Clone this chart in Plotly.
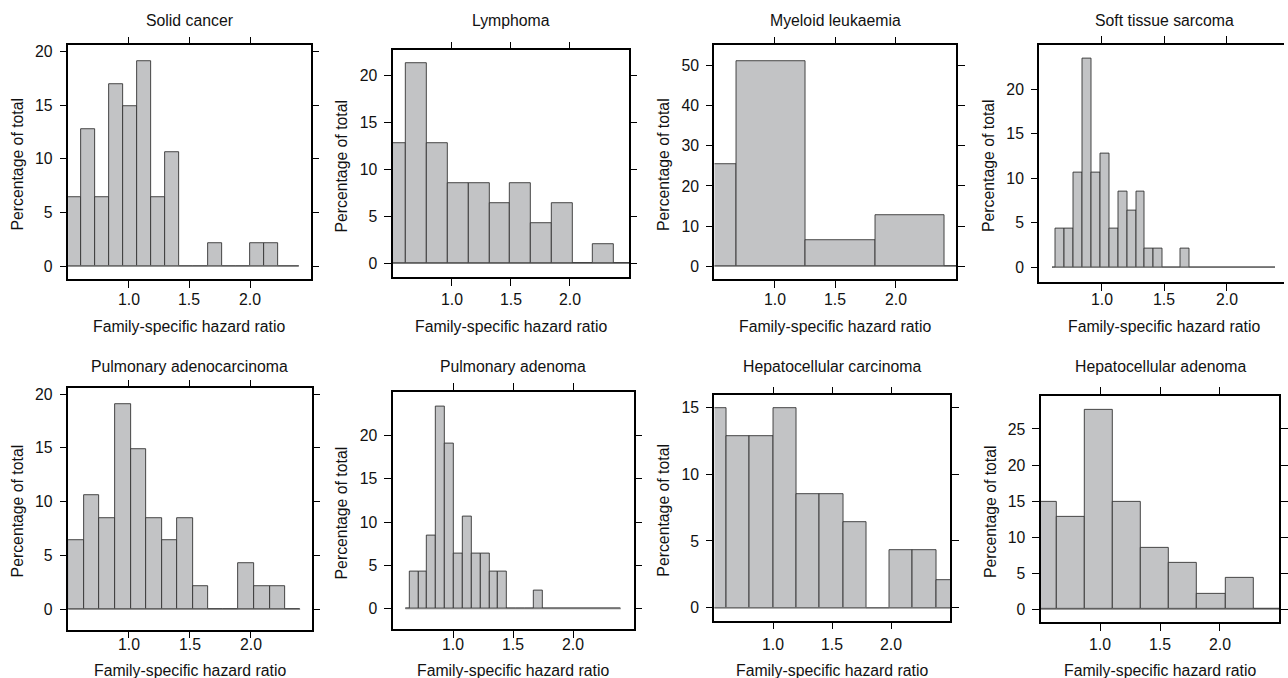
import plotly.graph_objects as go

W, H = 1288, 678

# ---------------- data ----------------
titles = ["Solid cancer", "Lymphoma", "Myeloid leukaemia", "Soft tissue sarcoma",
          "Pulmonary adenocarcinoma", "Pulmonary adenoma",
          "Hepatocellular carcinoma", "Hepatocellular adenoma"]

x_label = "Family-specific hazard ratio"
y_label = "Percentage of total"
x_ticks = [1.0, 1.5, 2.0]

solid_edges = [0.492, 0.608, 0.723, 0.839, 0.955, 1.071, 1.187, 1.302, 1.418, 1.534,
               1.650, 1.766, 1.881, 1.997, 2.113, 2.229, 2.401]
solid_pct = [6.4, 12.8, 6.4, 17.0, 14.9, 19.1, 6.4, 10.6, 0, 0, 2.1, 0, 0, 2.1, 2.1, 0]

lymph_edges = [0.436, 0.612, 0.789, 0.965, 1.141, 1.317, 1.492, 1.668, 1.844, 2.020,
               2.196, 2.371, 2.547]
lymph_pct = [12.8, 21.3, 12.8, 8.5, 8.5, 6.4, 8.5, 4.3, 6.4, 0, 2.1, 0]

myeloid_edges = [0.106, 0.680, 1.256, 1.830, 2.404, 2.980]
myeloid_pct = [25.5, 51.1, 6.4, 12.8, 0]

sarcoma_edges = [0.604, 0.630, 0.701, 0.773, 0.844, 0.916, 0.987, 1.058, 1.130, 1.201,
                 1.273, 1.344, 1.416, 1.487, 1.558, 1.630, 1.701, 2.386]
sarcoma_pct = [0, 4.3, 4.3, 10.6, 23.4, 10.6, 12.8, 4.3, 8.5, 6.4, 8.5, 2.1, 2.1, 0, 0, 2.1, 0]

pulm_adcarc_edges = [0.502, 0.630, 0.758, 0.886, 1.014, 1.141, 1.269, 1.397, 1.525, 1.653,
                     1.776, 1.899, 2.027, 2.156, 2.282, 2.405]
pulm_adcarc_pct = [6.4, 10.6, 8.5, 19.1, 14.9, 8.5, 6.4, 8.5, 2.1, 0, 0, 4.3, 2.1, 2.1, 0]

pulm_aden_edges = [0.605, 0.638, 0.712, 0.786, 0.859, 0.933, 1.007, 1.081, 1.154, 1.228,
                   1.302, 1.375, 1.449, 1.522, 1.596, 1.668, 1.743, 2.392]
pulm_aden_pct = [0, 4.3, 4.3, 8.5, 23.4, 19.1, 6.4, 10.6, 6.4, 6.4, 4.3, 4.3, 0, 0, 0, 2.1, 0]

hep_carc_edges = [0.403, 0.601, 0.799, 0.997, 1.195, 1.393, 1.591, 1.789, 1.985, 2.182,
                  2.381, 2.579]
hep_carc_pct = [14.9, 12.8, 12.8, 14.9, 8.5, 8.5, 6.4, 0, 4.3, 4.3, 2.1]

hep_aden_edges = [0.395, 0.631, 0.867, 1.103, 1.340, 1.576, 1.812, 2.049, 2.285, 2.521]
hep_aden_pct = [14.9, 12.8, 27.7, 14.9, 8.5, 6.4, 2.1, 4.3, 0]

y_ticks = [[0, 5, 10, 15, 20], [0, 5, 10, 15, 20], [0, 10, 20, 30, 40, 50],
           [0, 5, 10, 15, 20], [0, 5, 10, 15, 20], [0, 5, 10, 15, 20],
           [0, 5, 10, 15], [0, 5, 10, 15, 20, 25]]

panels_edges = [solid_edges, lymph_edges, myeloid_edges, sarcoma_edges,
                pulm_adcarc_edges, pulm_aden_edges, hep_carc_edges, hep_aden_edges]
panels_pct = [solid_pct, lymph_pct, myeloid_pct, sarcoma_pct,
              pulm_adcarc_pct, pulm_aden_pct, hep_carc_pct, hep_aden_pct]

# ---------------- layout (pixel boxes of each panel) ----------------
boxes = [  # x0, x1, ytop, ybottom
    (68.3, 311.7, 43.3, 278.3),
    (394.0, 631.0, 48.3, 276.0),
    (716.7, 959.3, 43.3, 278.3),
    (1042.7, 1293.3, 42.7, 281.0),
    (68.3, 312.7, 387.3, 630.0),
    (394.0, 635.7, 390.7, 629.3),
    (716.7, 953.3, 394.3, 620.7),
    (1044.0, 1283.3, 395.0, 622.3),
]
y_ranges = [(-1.24, 20.6), (-1.45, 22.7), (-3.3, 55.1), (-1.68, 25.0),
            (-1.95, 20.56), (-2.4, 25.1), (-0.97, 15.9), (-1.84, 29.6)]
x_range = (0.5, 2.5)
title_baseline = [24.5, 370.8]
xtitle_baseline = [330.7, 675.5]
xtick_baseline = [304.0, 650.0]

FONT = "Liberation Sans, Arial, Helvetica, sans-serif"
FS = 15.8
TXT = "#111111"
BAR_FILL = "#c2c3c5"
BAR_LINE = "#333333"
MID = 0.3465 * FS  # baseline -> middle of text box

fig = go.Figure()
layout = dict(width=W, height=H, margin=dict(l=0, r=0, t=0, b=0),
              paper_bgcolor="white", plot_bgcolor="white", showlegend=False,
              font=dict(family=FONT, size=FS, color=TXT), bargap=0)
annotations = []
tfont = dict(family=FONT, size=FS, color=TXT)

for i in range(8):
    k = i + 1
    xa = "x" if k == 1 else f"x{k}"
    ya = "y" if k == 1 else f"y{k}"
    edges = panels_edges[i]
    pct = panels_pct[i]
    centers = [(edges[j] + edges[j + 1]) / 2 for j in range(len(pct))]
    widths = [edges[j + 1] - edges[j] for j in range(len(pct))]

    # baseline (zero-height bins)
    fig.add_trace(go.Scatter(x=[edges[0], edges[-1]], y=[0, 0], mode="lines",
                             line=dict(color="#7a7a7a", width=1.1),
                             xaxis=xa, yaxis=ya, hoverinfo="skip"))
    fig.add_trace(go.Bar(x=centers, y=pct, width=widths,
                         marker=dict(color=BAR_FILL, line=dict(color=BAR_LINE, width=0.9)),
                         xaxis=xa, yaxis=ya))

    x0, x1, yt, yb = boxes[i]
    xr = list(x_range)
    dx1 = x1
    if x1 > W:  # panel cut by the right edge of the figure
        xr[1] = x_range[0] + (x_range[1] - x_range[0]) * (W - x0) / (x1 - x0)
        dx1 = W
    row = 0 if i < 4 else 1
    common = dict(showline=True, linecolor="black", linewidth=1.7, ticks="outside",
                  ticklen=6.5, tickwidth=1.3, tickcolor="black", showgrid=False,
                  zeroline=False, fixedrange=True, tickfont=tfont)
    layout["xaxis" if k == 1 else f"xaxis{k}"] = dict(
        common, domain=[x0 / W, dx1 / W], range=xr, tickvals=x_ticks,
        showticklabels=False, mirror="ticks", anchor=ya)
    layout["yaxis" if k == 1 else f"yaxis{k}"] = dict(
        common, domain=[1 - yb / H, 1 - yt / H], range=list(y_ranges[i]),
        tickvals=y_ticks[i], mirror=("ticks" if x1 <= W else False), anchor=xa,
        ticklabelstandoff=4)

    # x tick labels, placed on the axis' own scale
    for v in x_ticks:
        annotations.append(dict(text=f"{v:.1f}", x=v, xref=xa, y=1 - (xtick_baseline[row] - MID) / H,
                                yref="paper", xanchor="center", yanchor="middle",
                                showarrow=False, font=tfont))

    cx = (x0 + x1) / 2
    annotations.append(dict(text=titles[i], x=cx / W, y=1 - (title_baseline[row] - MID) / H,
                            xref="paper", yref="paper", xanchor="center", yanchor="middle",
                            showarrow=False, font=tfont))
    annotations.append(dict(text=x_label, x=cx / W, y=1 - (xtitle_baseline[row] - MID) / H,
                            xref="paper", yref="paper", xanchor="center", yanchor="middle",
                            showarrow=False, font=tfont))
    annotations.append(dict(text=y_label, x=(x0 - 51) / W, y=1 - ((yt + yb) / 2 + 2) / H,
                            xref="paper", yref="paper", xanchor="center", yanchor="middle",
                            textangle=-90, showarrow=False, font=tfont))

layout["annotations"] = annotations
fig.update_layout(**layout)
fig.write_html("out.html", config={"displayModeBar": False},
               post_script="document.body.style.margin='0px';document.body.style.overflow='hidden';")
